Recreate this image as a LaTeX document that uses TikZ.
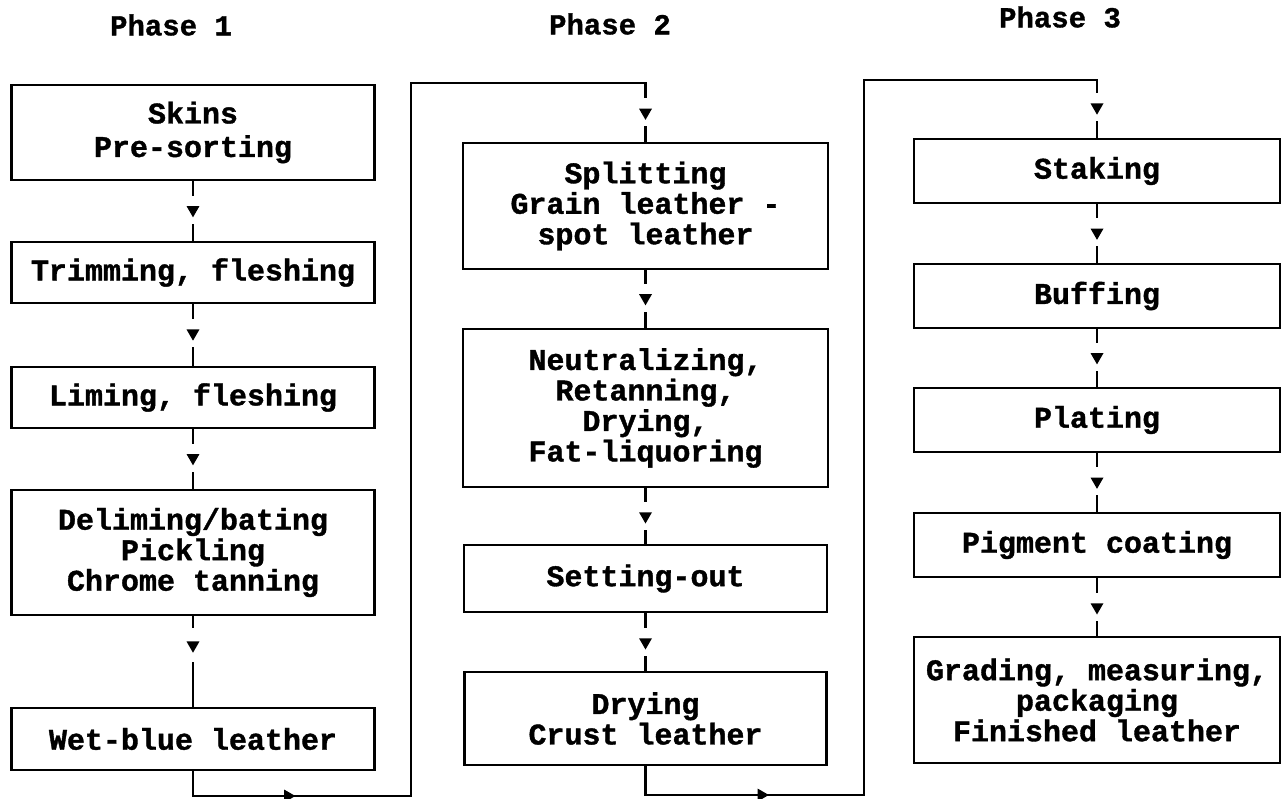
\documentclass[tikz,border=0pt]{standalone}
\usepackage{fontspec}
\newfontfamily\cour{Liberation Mono}[BoldFeatures={FakeBold=1.2}]
\usetikzlibrary{shapes.geometric}
\tikzset{
  box/.style={draw, line width=2.4pt, inner sep=0pt, align=center,
    font=\cour\bfseries\fontsize{30}{30.5}\selectfont},
  title/.style={font=\cour\bfseries\fontsize{29}{30}\selectfont, inner sep=0pt},
  conn/.style={line width=2.4pt},
  gapn/.style={fill=white, inner sep=0pt, minimum width=10pt, minimum height=28pt},
  tri/.style={regular polygon, regular polygon sides=3, shape border rotate=180,
    fill=black, inner sep=0pt, minimum size=15pt},
  rtri/.style={regular polygon, regular polygon sides=3, shape border rotate=-90,
    fill=black, inner sep=0pt, minimum size=15pt}
}
\begin{document}
\begin{tikzpicture}[x=1pt, y=-1pt]
\useasboundingbox (0,0) rectangle (1285,799);
% titles
\node[title] (t1) at (171,25) {Phase 1};
\node[title] (t2) at (610,24) {Phase 2};
\node[title] (t3) at (1060,17) {Phase 3};
% column 1
\node[box, minimum width=363pt, minimum height=95pt] (skins) at (193,132.5) {Skins\\[3pt]Pre-sorting};
\node[box, minimum width=363pt, minimum height=61pt] (trim) at (193,272.5) {Trimming, fleshing};
\node[box, minimum width=363pt, minimum height=61pt] (lim) at (193,397.5) {Liming, fleshing};
\node[box, minimum width=363pt, minimum height=125pt] (delim) at (193,552.5) {Deliming/bating\\Pickling\\Chrome tanning};
\node[box, minimum width=363pt, minimum height=62pt] (wet) at (193,739) {Wet-blue leather};
% column 2
\node[box, minimum width=365pt, minimum height=126pt] (split) at (645.5,206) {Splitting\\Grain leather -\\spot leather};
\node[box, minimum width=365pt, minimum height=158pt] (neut) at (645.5,408) {Neutralizing,\\Retanning,\\Drying,\\Fat-liquoring};
\node[box, minimum width=363pt, minimum height=67pt] (set) at (645.5,578.5) {Setting-out};
\node[box, minimum width=362pt, minimum height=93pt] (dry) at (645.5,718.5) {Drying\\Crust leather};
% column 3
\node[box, minimum width=366pt, minimum height=64pt] (stak) at (1097,171) {Staking};
\node[box, minimum width=366pt, minimum height=64pt] (buff) at (1097,296) {Buffing};
\node[box, minimum width=366pt, minimum height=64pt] (plat) at (1097,420) {Plating};
\node[box, minimum width=366pt, minimum height=64pt] (pig) at (1097,545) {Pigment coating};
\node[box, minimum width=366pt, minimum height=126pt] (grad) at (1097,700) {Grading, measuring,\\packaging\\Finished leather};
% loop coordinates
\coordinate (c1) at (193,796);
\coordinate (c2) at (411,796);
\coordinate (c3) at (411,83);
\coordinate (c4) at (645.5,83);
\coordinate (d1) at (645.5,795);
\coordinate (d2) at (864,795);
\coordinate (d3) at (864,80);
\coordinate (d4) at (1097,80);
% connectors column 1
\draw[conn] (skins) -- node[pos=0.48, gapn]{} node[pos=0.48, tri]{} (trim);
\draw[conn] (trim) -- node[pos=0.47, gapn]{} node[pos=0.47, tri]{} (lim);
\draw[conn] (lim) -- node[pos=0.48, gapn]{} node[pos=0.48, tri]{} (delim);
\draw[conn] (delim) -- node[pos=0.32, gapn, minimum height=34pt]{} node[pos=0.32, tri]{} (wet);
% loop 1
\draw[conn] (wet.south) -- (c1) -- node[pos=0.435, rtri]{} (c2) -- (c3) -- (c4)
  -- node[pos=0.5, gapn]{} node[pos=0.5, tri]{} (split.north);
% column 2
\draw[conn] (split) -- node[pos=0.48, gapn]{} node[pos=0.48, tri]{} (neut);
\draw[conn] (neut) -- node[pos=0.5, gapn]{} node[pos=0.5, tri]{} (set);
\draw[conn] (set) -- node[pos=0.5, gapn]{} node[pos=0.5, tri]{} (dry);
% loop 2
\draw[conn] (dry.south) -- (d1) -- node[pos=0.53, rtri]{} (d2) -- (d3) -- (d4)
  -- node[pos=0.47, gapn]{} node[pos=0.47, tri]{} (stak.north);
% column 3
\draw[conn] (stak) -- node[pos=0.48, gapn]{} node[pos=0.48, tri]{} (buff);
\draw[conn] (buff) -- node[pos=0.48, gapn]{} node[pos=0.48, tri]{} (plat);
\draw[conn] (plat) -- node[pos=0.48, gapn]{} node[pos=0.48, tri]{} (pig);
\draw[conn] (pig) -- node[pos=0.5, gapn]{} node[pos=0.5, tri]{} (grad);
\end{tikzpicture}
\end{document}
